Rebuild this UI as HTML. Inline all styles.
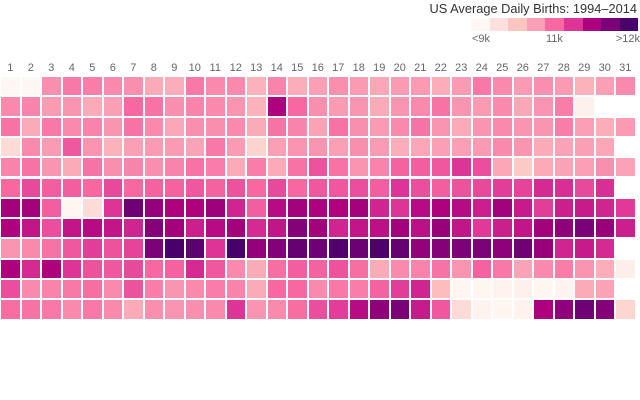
<!DOCTYPE html>
<html><head><meta charset="utf-8"><style>
body{margin:0;width:640px;height:400px;background:#fff;overflow:hidden;font-family:"Liberation Sans","DejaVu Sans",sans-serif;}
#c{position:relative;width:640px;height:400px;}
.cell{position:absolute;}
.t{position:absolute;color:#666;font-size:11px;line-height:1;}
</style></head><body><div id="c">
<div style="position:absolute;right:3px;top:1px;font-size:12.8px;color:#333;white-space:nowrap">US Average Daily Births: 1994–2014</div>
<div class="t" style="left:472px;top:34px">&lt;9k</div>
<div class="t" style="left:546px;top:34px">11k</div>
<div class="t" style="right:0px;top:34px">&gt;12k</div>
</div>
<script>
var pal=["#fff7f3","#fde0dd","#fcc5c0","#fa9fb5","#f768a1","#dd3497","#ae017e","#7a0177","#49006a"];
function hx(h){return [1,3,5].map(i=>parseInt(h.substr(i,2),16));}
var P=pal.map(hx);
function col(v){if(v<0)v=0;if(v>8)v=8;var i=Math.min(7,Math.floor(v)),f=v-i;var a=P[i],b=P[i+1];return "rgb("+a.map((x,k)=>Math.round(x+(b[k]-x)*f)).join(",")+")";}
var D=[
[0,0,3.3,3.7,3.6,3.4,3.3,2.7,2.6,3.7,3.4,3.4,2.5,3.5,2.6,3.0,3.3,3.1,2.8,3.1,3.1,2.6,3.1,3.7,3.4,3.1,3.3,3.1,2.5,3.0,3.4],
[3.4,3.5,3.1,3.2,2.7,3.0,4.0,3.8,3.3,3.5,3.4,3.2,2.5,6.0,4.0,3.3,3.1,3.2,2.7,3.2,3.4,3.8,3.2,3.1,3.4,2.8,3.2,3.6,0.3,null,null],
[3.8,2.7,3.7,3.4,3.5,3.2,3.8,3.4,2.8,3.3,3.3,3.4,2.7,3.8,3.5,2.9,3.8,3.3,3.1,3.4,3.8,3.2,2.7,3.2,3.4,3.2,3.2,3.6,3.0,2.6,3.1],
[1.2,3.4,3.1,4.3,3.2,2.5,3.0,3.1,3.1,2.9,3.7,3.1,1.5,3.0,3.2,3.2,3.0,3.3,3.1,2.6,2.8,3.0,3.0,3.1,3.4,3.2,2.7,2.9,3.0,2.8,null],
[3.5,3.8,3.2,2.7,3.8,3.3,3.5,3.3,3.5,3.8,3.6,2.7,3.6,2.7,3.8,4.4,3.8,3.2,3.5,4.1,4.2,4.3,5.0,4.5,2.8,1.8,2.7,2.9,3.0,3.3,2.9],
[4.0,4.6,4.2,4.2,4.0,4.6,4.0,4.1,4.1,4.3,4.1,4.4,4.0,4.6,4.0,4.3,4.3,4.5,4.2,5.0,4.5,4.2,4.4,4.6,4.8,4.7,5.2,5.1,4.6,5.1,null],
[6.2,6.2,4.2,0.1,1.2,5.0,7.2,6.5,6.0,6.0,6.3,5.3,4.2,5.8,6.2,6.0,6.0,6.2,5.3,5.0,5.8,6.0,5.8,5.4,6.2,5.5,4.8,5.4,5.5,5.3,4.9],
[6.0,5.6,4.5,5.6,5.8,5.6,5.3,6.8,6.2,5.4,5.8,6.2,5.2,5.6,6.8,6.2,5.3,5.6,5.7,6.2,5.7,6.4,5.6,4.9,5.4,5.6,6.2,6.6,7.0,6.4,5.4],
[3.2,3.4,3.8,4.3,4.8,4.4,4.7,7.0,8.0,7.6,5.0,8.0,6.5,6.8,7.4,7.2,7.8,7.3,7.9,7.4,6.5,6.8,6.9,7.0,6.6,7.2,6.4,5.3,5.5,5.2,null],
[6.0,5.2,6.0,5.0,4.4,4.3,4.6,4.0,4.1,5.2,4.3,3.4,2.7,3.9,4.2,4.1,4.4,3.9,2.7,3.4,3.5,3.8,3.2,4.1,3.7,2.9,3.4,3.6,3.2,2.6,0.4],
[4.5,3.4,3.5,3.7,3.9,3.4,4.4,3.6,3.2,3.4,3.6,3.5,2.7,4.0,4.0,3.4,3.7,3.6,4.1,4.8,5.3,2.2,0.1,0.1,0.2,0.3,0.1,0.2,2.7,2.9,null],
[3.9,3.8,3.7,3.4,3.7,3.4,2.7,3.3,3.2,3.3,3.4,5.0,3.2,3.4,3.9,4.5,4.8,5.8,6.6,7.0,5.5,4.3,1.2,0.2,0.1,0.2,6.0,6.6,7.2,6.8,1.4]];
var c=document.getElementById('c'),h='';
for(var j=0;j<31;j++){var x=1+j*20.5;
h+='<div class="t" style="left:'+(x+9.25-15)+'px;width:30px;text-align:center;top:63px">'+(j+1)+'</div>';}
for(var r=0;r<12;r++)for(var j=0;j<31;j++){var v=D[r][j];if(v===null)continue;
h+='<div class="cell" style="left:'+(1+j*20.5)+'px;top:'+(77+r*20.3)+'px;width:18.5px;height:18.3px;background:'+col(v)+'"></div>';}
for(var k=0;k<9;k++)h+='<div class="cell" style="left:'+(471+k*18.6)+'px;top:18px;width:18.7px;height:13px;background:'+pal[k]+'"></div>';
c.insertAdjacentHTML('beforeend',h);
</script></body></html>
